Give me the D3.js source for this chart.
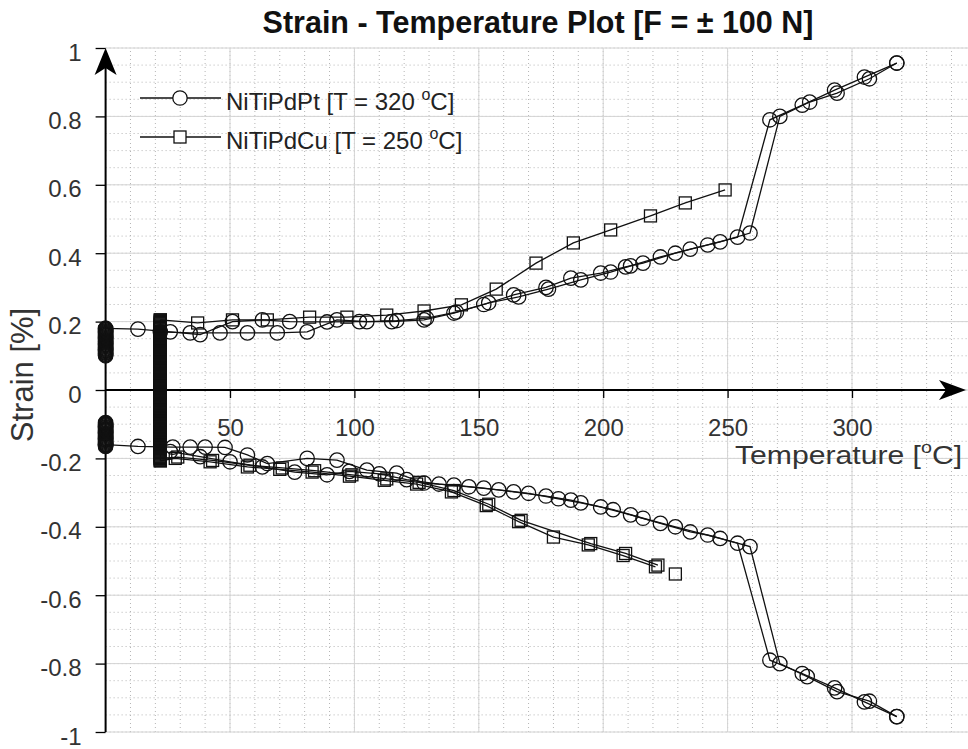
<!DOCTYPE html>
<html><head><meta charset="utf-8">
<script src="https://cdn.jsdelivr.net/npm/d3@7"></script>
<style>body{margin:0;background:#fff} svg{display:block;font-family:"Liberation Sans",Arial,sans-serif}</style>
</head><body><svg id="c" width="968" height="749"></svg>
<script>
// ---------- DATA ----------
const titleText = "Strain - Temperature Plot [F = \u00B1 100 N]";
const xTicks = [50, 100, 150, 200, 250, 300];
const yTicks = [-1, -0.8, -0.6, -0.4, -0.2, 0, 0.2, 0.4, 0.6, 0.8, 1];
const yTickLabels = ["-1", "-0.8", "-0.6", "-0.4", "-0.2", "0", "0.2", "0.4", "0.6", "0.8", "1"];
const seriesNames = ["NiTiPdPt [T = 320 ", "NiTiPdCu [T = 250 "];

// NiTiPdPt (circles)
const ptHeatUpT = [0, 13, 26, 38, 51, 63, 74, 89, 102, 115, 128, 140, 152, 164, 177, 187, 199, 209, 216, 229, 242, 254, 267, 280, 293, 305, 318];
const ptHeatUpS = [0.18, 0.178, 0.17, 0.162, 0.2, 0.205, 0.2, 0.199, 0.2, 0.2, 0.205, 0.225, 0.25, 0.278, 0.3, 0.327, 0.342, 0.36, 0.371, 0.4, 0.424, 0.447, 0.79, 0.833, 0.877, 0.915, 0.956];
const ptCoolUpT = [318, 307, 294, 283, 271, 259, 247, 235, 223, 211, 203, 191, 178, 166, 154, 141, 129, 117, 105, 93, 81, 69, 57, 46, 34, 22];
const ptCoolUpS = [0.956, 0.91, 0.868, 0.842, 0.8, 0.459, 0.433, 0.412, 0.389, 0.363, 0.345, 0.322, 0.295, 0.272, 0.255, 0.228, 0.21, 0.203, 0.2, 0.205, 0.17, 0.167, 0.167, 0.167, 0.167, 0.17];
const ptHeatLoT = [0, 13, 27, 34, 40, 48, 57, 65, 81, 93, 105, 117, 128, 140, 152, 164, 177, 187, 199, 211, 223, 235, 242, 254, 267, 280, 293, 305, 318];
const ptHeatLoS = [-0.16, -0.165, -0.167, -0.167, -0.167, -0.168, -0.19, -0.215, -0.2, -0.205, -0.234, -0.243, -0.272, -0.278, -0.287, -0.298, -0.31, -0.322, -0.342, -0.365, -0.39, -0.415, -0.424, -0.448, -0.79, -0.829, -0.871, -0.912, -0.955];
const ptCoolLoT = [318, 307, 294, 282, 271, 259, 247, 229, 216, 204, 191, 182, 170, 158, 146, 134, 121, 110, 98, 89, 76, 63, 50, 38, 26];
const ptCoolLoS = [-0.955, -0.91, -0.882, -0.838, -0.8, -0.458, -0.434, -0.4, -0.375, -0.35, -0.33, -0.318, -0.302, -0.292, -0.283, -0.275, -0.262, -0.245, -0.238, -0.248, -0.24, -0.225, -0.21, -0.195, -0.18];
const ptStackT = 0;
const ptStackS = [0.18,0.1775,0.175,0.1725,0.17,0.1675,0.165,0.1625,0.16,0.1575,0.155,0.1525,0.15,0.1475,0.145,0.1425,0.14,0.1375,0.135,0.1325,0.13,0.1275,0.125,0.1225,0.12,0.1175,0.115,0.1125,0.11,0.1075,0.105,0.1025,0.1,
  -0.095,-0.0975,-0.1,-0.1025,-0.105,-0.1075,-0.11,-0.1125,-0.115,-0.1175,-0.12,-0.1225,-0.125,-0.1275,-0.13,-0.1325,-0.135,-0.1375,-0.14,-0.1425,-0.145,-0.1475,-0.15,-0.1525,-0.155,-0.1575,-0.16,-0.1625,-0.165];

// NiTiPdCu (squares)
const cuUpT = [22, 37, 51, 65, 82, 97, 113, 128, 143, 157, 173, 188, 203, 219, 233, 249];
const cuUpS = [0.205, 0.196, 0.205, 0.205, 0.213, 0.213, 0.219, 0.231, 0.249, 0.295, 0.371, 0.43, 0.468, 0.509, 0.547, 0.585];
const cuLoT = [22, 28, 42, 57, 70, 83, 98, 112, 125, 139, 153, 166, 180, 194, 208, 221];
const cuLoS = [-0.207, -0.2, -0.21, -0.225, -0.232, -0.24, -0.252, -0.264, -0.275, -0.298, -0.338, -0.385, -0.43, -0.453, -0.484, -0.517];
const cuLo2T = [222, 209, 195, 167, 154, 140, 126, 113, 99, 84, 71, 58, 43, 29, 22];
const cuLo2S = [-0.512, -0.478, -0.449, -0.381, -0.334, -0.294, -0.27, -0.26, -0.248, -0.236, -0.228, -0.22, -0.206, -0.196, -0.2];
const cuLooseT = [229];
const cuLooseS = [-0.538];
const cuStackT = 22;
const cuStackS = [0.205,0.2025,0.2,0.1975,0.195,0.1925,0.19,0.1875,0.185,0.1825,0.18,0.1775,0.175,0.1725,0.17,0.1675,0.165,0.1625,0.16,0.1575,0.155,0.1525,0.15,0.1475,0.145,0.1425,0.14,0.1375,0.135,0.1325,0.13,0.1275,0.125,0.1225,0.12,0.1175,0.115,0.1125,0.11,0.1075,0.105,0.1025,0.1,0.0975,0.095,0.0925,0.09,0.0875,0.085,0.0825,0.08,0.0775,0.075,0.0725,0.07,0.0675,0.065,0.0625,0.06,0.0575,0.055,0.0525,0.05,0.0475,0.045,0.0425,0.04,0.0375,0.035,0.0325,0.03,0.0275,0.025,0.0225,0.02,0.0175,0.015,0.0125,0.01,0.0075,0.005,0.0025,0,
  -0.0025,-0.005,-0.0075,-0.01,-0.0125,-0.015,-0.0175,-0.02,-0.0225,-0.025,-0.0275,-0.03,-0.0325,-0.035,-0.0375,-0.04,-0.0425,-0.045,-0.0475,-0.05,-0.0525,-0.055,-0.0575,-0.06,-0.0625,-0.065,-0.0675,-0.07,-0.0725,-0.075,-0.0775,-0.08,-0.0825,-0.085,-0.0875,-0.09,-0.0925,-0.095,-0.0975,-0.1,-0.1025,-0.105,-0.1075,-0.11,-0.1125,-0.115,-0.1175,-0.12,-0.1225,-0.125,-0.1275,-0.13,-0.1325,-0.135,-0.1375,-0.14,-0.1425,-0.145,-0.1475,-0.15,-0.1525,-0.155,-0.1575,-0.16,-0.1625,-0.165,-0.1675,-0.17,-0.1725,-0.175,-0.1775,-0.18,-0.1825,-0.185,-0.1875,-0.19,-0.1925,-0.195,-0.1975,-0.2,-0.2025,-0.205,-0.207];

// ---------- CHART ----------
const W = 968, H = 749;
const x = d3.scaleLinear().domain([0, 350]).range([105.6, 976.4]);
const y = d3.scaleLinear().domain([-1, 1]).range([732, 48]);
const svg = d3.select('#c');
svg.append('rect').attr('width', W).attr('height', H).attr('fill', '#fff');

const grid = svg.append('g');
// minor grid
grid.selectAll('.mx').data(x.ticks(35)).join('line')
  .attr('x1', d => x(d)).attr('x2', d => x(d)).attr('y1', y(-1)).attr('y2', y(1))
  .attr('stroke', '#b5b5b5').attr('stroke-width', 1).attr('stroke-dasharray', '1,3');
grid.selectAll('.my').data(y.ticks(40)).join('line')
  .attr('y1', d => y(d)).attr('y2', d => y(d)).attr('x1', x(0)).attr('x2', W)
  .attr('stroke', '#b5b5b5').attr('stroke-width', 1).attr('stroke-dasharray', '1,3');
// major grid
grid.selectAll('.gx').data(x.ticks(7)).join('line')
  .attr('x1', d => x(d)).attr('x2', d => x(d)).attr('y1', y(-1)).attr('y2', y(1))
  .attr('stroke', '#d4d4d4').attr('stroke-width', 1);
grid.selectAll('.gy').data(yTicks).join('line')
  .attr('y1', d => y(d)).attr('y2', d => y(d)).attr('x1', x(0)).attr('x2', W)
  .attr('stroke', '#d4d4d4').attr('stroke-width', 1);

// axes
const yAxis = d3.axisLeft(y).tickValues(yTicks).tickFormat((d, i) => yTickLabels[i]).tickSize(10).tickPadding(14);
const gy = svg.append('g').attr('transform', `translate(${x(0)},0)`).call(yAxis);
gy.select('.domain').remove();
gy.selectAll('line').attr('stroke', '#000').attr('stroke-width', 1.3);
gy.selectAll('text').attr('font-size', 24).attr('fill', '#333').attr('dy', '0.5em').attr('font-family', '"Liberation Sans",Arial,sans-serif');

const xAxis = d3.axisBottom(x).tickValues(xTicks).tickSize(8).tickPadding(21);
const gx = svg.append('g').attr('transform', `translate(0,${y(0)})`).call(xAxis);
gx.select('.domain').remove();
gx.selectAll('line').attr('stroke', '#000').attr('stroke-width', 1.3);
gx.selectAll('text').attr('font-size', 24).attr('fill', '#333').attr('font-family', '"Liberation Sans",Arial,sans-serif');

// axis lines with arrows
svg.append('line').attr('x1', x(0)).attr('x2', x(0)).attr('y1', y(-1)).attr('y2', y(1) + 10)
  .attr('stroke', '#000').attr('stroke-width', 2);
svg.append('line').attr('x1', x(0)).attr('x2', 955).attr('y1', y(0)).attr('y2', y(0))
  .attr('stroke', '#000').attr('stroke-width', 2);
const ax0 = x(0), ay1 = y(1);
svg.append('path').attr('d', `M${ax0},${ay1} L${ax0 + 11},${ay1 + 27} L${ax0},${ay1 + 20} L${ax0 - 11},${ay1 + 27} Z`).attr('fill', '#000');
const tipX = 966, ay0 = y(0);
svg.append('path').attr('d', `M${tipX},${ay0} L${tipX - 27},${ay0 - 10} L${tipX - 20},${ay0} L${tipX - 27},${ay0 + 10} Z`).attr('fill', '#000');

// series
const R = 7.2, SQ = 12;
const line = d3.line().x(d => x(d[0])).y(d => y(d[1]));
const zip = (a, b) => a.map((v, i) => [v, b[i]]);
const plot = svg.append('g');
function drawLine(T, S) {
  plot.append('path').datum(zip(T, S)).attr('d', line)
    .attr('fill', 'none').attr('stroke', '#111').attr('stroke-width', 1.3);
}
function drawCircles(T, S) {
  plot.append('g').selectAll('circle').data(zip(T, S)).join('circle')
    .attr('cx', d => x(d[0])).attr('cy', d => y(d[1])).attr('r', R)
    .attr('fill', 'none').attr('stroke', '#111').attr('stroke-width', 1.3);
}
function drawSquares(T, S) {
  plot.append('g').selectAll('rect').data(zip(T, S)).join('rect')
    .attr('x', d => x(d[0]) - SQ / 2).attr('y', d => y(d[1]) - SQ / 2).attr('width', SQ).attr('height', SQ)
    .attr('fill', 'none').attr('stroke', '#111').attr('stroke-width', 1.3);
}
// NiTiPdPt
[[ptHeatUpT, ptHeatUpS], [ptCoolUpT, ptCoolUpS], [ptHeatLoT, ptHeatLoS], [ptCoolLoT, ptCoolLoS]].forEach(([T, S]) => { drawLine(T, S); drawCircles(T, S); });
drawCircles(ptStackS.map(() => ptStackT), ptStackS);
// NiTiPdCu
[[cuUpT, cuUpS], [cuLoT, cuLoS], [cuLo2T, cuLo2S]].forEach(([T, S]) => { drawLine(T, S); drawSquares(T, S); });
drawSquares(cuLooseT, cuLooseS);
drawLine(cuStackS.map(() => cuStackT), cuStackS);
drawSquares(cuStackS.map(() => cuStackT), cuStackS);

// legend
const leg = svg.append('g');
const legY = [98, 137];
seriesNames.forEach((name, i) => {
  leg.append('line').attr('x1', 140).attr('x2', 221).attr('y1', legY[i]).attr('y2', legY[i]).attr('stroke', '#111').attr('stroke-width', 1.3);
  if (i === 0) leg.append('circle').attr('cx', 180).attr('cy', legY[i]).attr('r', R).attr('fill', '#fff').attr('stroke', '#111').attr('stroke-width', 1.3);
  else leg.append('rect').attr('x', 180 - SQ / 2).attr('y', legY[i] - SQ / 2).attr('width', SQ).attr('height', SQ).attr('fill', '#fff').attr('stroke', '#111').attr('stroke-width', 1.3);
  const t = leg.append('text').attr('x', 226).attr('y', legY[i] + 12).attr('font-size', 24).attr('fill', '#222');
  t.append('tspan').text(name);
  t.append('tspan').attr('font-size', 16).attr('dy', -10).text('o');
  t.append('tspan').attr('dy', 10).text('C]');
});

// title
svg.append('text').attr('x', 538).attr('y', 33).attr('text-anchor', 'middle')
  .attr('font-size', 30.5).attr('font-weight', 'bold').attr('fill', '#111').text(titleText);

// x label (slightly wide glyphs, as in the reference)
const xl = svg.append('text').attr('transform', 'translate(735,464) scale(1.16,1)').attr('font-size', 26).attr('fill', '#333');
xl.append('tspan').text('Temperature [');
xl.append('tspan').attr('font-size', 17).attr('dy', -11).text('o');
xl.append('tspan').attr('dy', 11).text('C]');

// y label
svg.append('text').attr('transform', 'translate(33,375) rotate(-90)').attr('text-anchor', 'middle')
  .attr('font-size', 31).attr('fill', '#333').text('Strain [%]');
</script></body></html>
